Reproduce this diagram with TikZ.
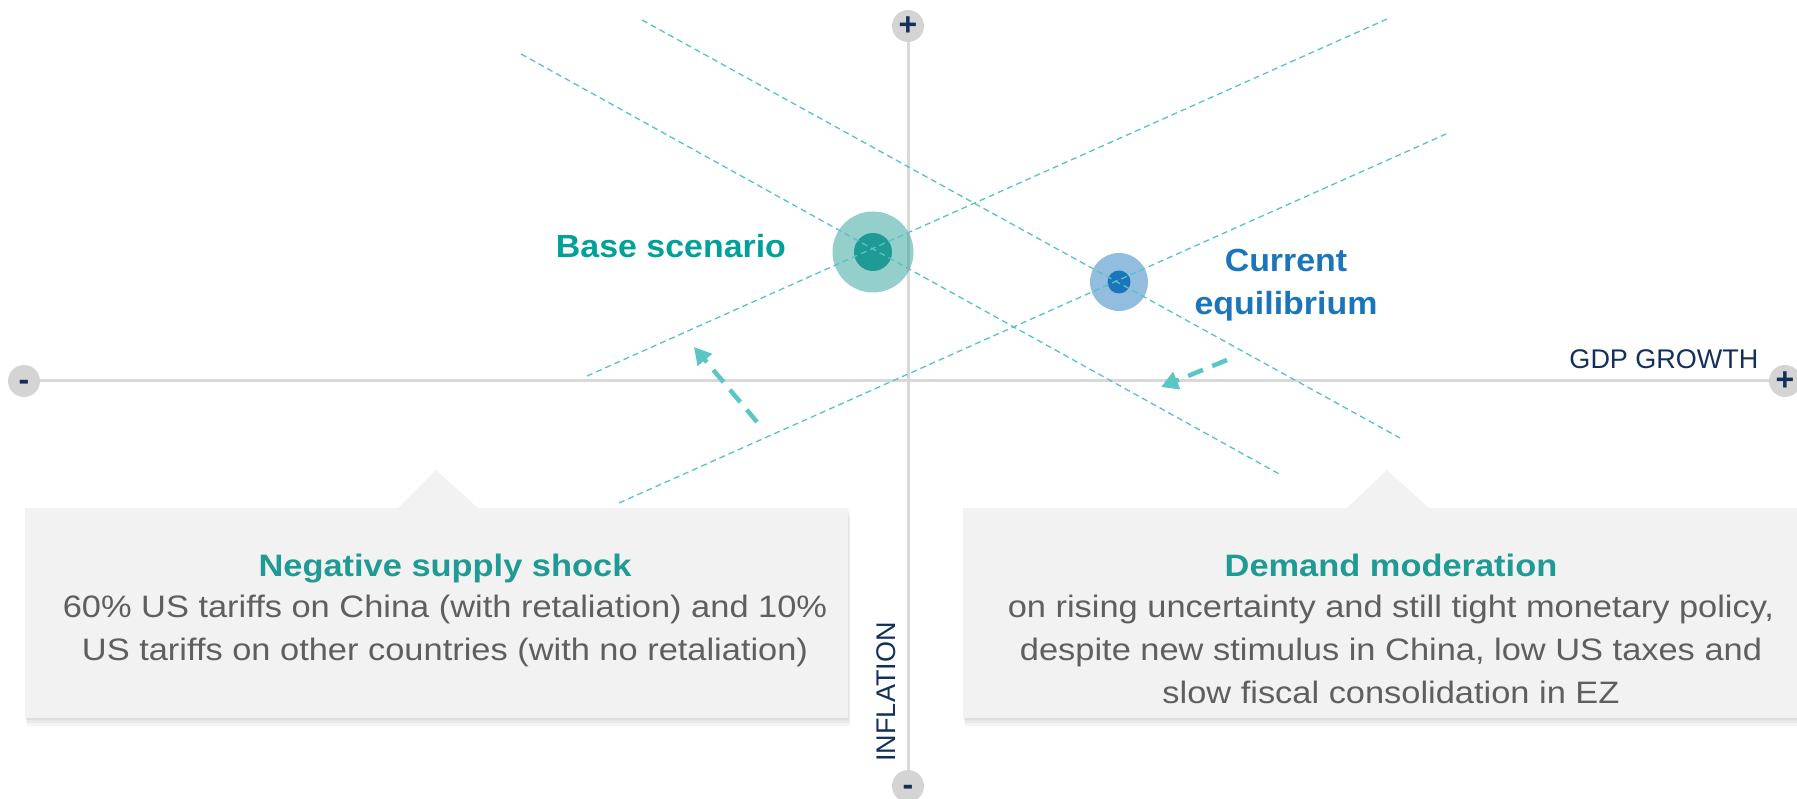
\documentclass[tikz,border=0pt]{standalone}
\usepackage{fontspec}
\setmainfont{Liberation Sans}
\newfontfamily\widefont[FakeStretch=1.11]{Liberation Sans}
\newfontfamily\labfont[FakeStretch=1.06]{Liberation Sans}
\usetikzlibrary{arrows.meta}
\definecolor{axisgray}{HTML}{D9D9D9}
\definecolor{endgray}{HTML}{D4D4D4}
\definecolor{navy}{HTML}{14305A}
\definecolor{dashteal}{HTML}{55C4C4}
\definecolor{arrteal}{HTML}{5CC6C6}
\definecolor{baseteal}{HTML}{1F9A94}
\definecolor{labteal}{HTML}{00A19A}
\definecolor{curblue}{HTML}{1B75BB}
\definecolor{boxfill}{HTML}{F2F2F2}
\definecolor{bodygray}{HTML}{5F5F5F}
\newcommand\myfs[2]{\fontsize{#1}{#2}\selectfont}
\begin{document}
\begin{tikzpicture}[x=1pt,y=-1pt,
  axisline/.style={draw=axisgray,line width=3pt},
  endcap/.style={circle,fill=endgray,minimum size=32pt,inner sep=0pt,text=navy,font=\bfseries\myfs{32}{32}},
  minuslab/.style={label={[text=navy,font=\bfseries\myfs{32}{32},yshift=-4pt]center:-}},
  guide/.style={draw=dashteal,line width=1.3pt,dash pattern=on 6pt off 4pt},
  shiftarrow/.style={draw=arrteal,line width=4.5pt,dash pattern=on 16pt off 10pt,-{Triangle[length=17pt,width=18pt]}},
  callout/.style={fill=boxfill,
    preaction={fill=black,opacity=0.05,transform canvas={xshift=0.5pt,yshift=-2pt}},
    preaction={fill=black,opacity=0.05,transform canvas={xshift=1.5pt,yshift=-5pt}},
    preaction={fill=black,opacity=0.04,transform canvas={xshift=2pt,yshift=-8pt}}},
  boxtitle/.style={anchor=base,text=baseteal,font=\widefont\bfseries\myfs{31}{43}},
  boxbody/.style={anchor=base,text=bodygray,align=center,font=\widefont\myfs{31}{43}},
]
\useasboundingbox (0,0) rectangle (1797,799);

% callout boxes
\path[callout] (25,508) -- (398,508) -- (436,470) -- (478,508) -- (848,508) -- (848,718) -- (25,718) -- cycle;
\path[callout] (963,508) -- (1347,508) -- (1387,470) -- (1429,508) -- (1830,508) -- (1830,718) -- (963,718) -- cycle;

% axes
\coordinate (xlc) at (24,381);
\coordinate (xrc) at (1785,381);
\coordinate (ytc) at (908,26);
\coordinate (ybc) at (908,786);
\draw[axisline] (xlc) -- (xrc);
\draw[axisline] (ytc) -- (ybc);
\node[endcap,minuslab] (xl) at (xlc) {};
\node[endcap] (xr) at (xrc) {+};
\node[endcap] (yt) at (ytc) {+};
\node[endcap,minuslab] (yb) at (ybc) {};

\node[anchor=base east,text=navy,font=\myfs{27}{27}] (gdp) at (1762,369) {GDP GROWTH};
\node[anchor=base,rotate=90,text=navy,font=\myfs{27}{27}] (infl) at (895,692) {INFLATION};

% scenario points
\fill[baseteal,opacity=0.48] (873,252) circle[radius=40.5];
\fill[baseteal] (873,252) circle[radius=19];
\fill[curblue,opacity=0.48] (1119,282) circle[radius=29];
\fill[curblue] (1119,282) circle[radius=11.5];

% guide lines
\coordinate (a1) at (521,54);   \coordinate (a2) at (1281,475);
\coordinate (b1) at (642,20);   \coordinate (b2) at (1400,438);
\coordinate (c1) at (587,376);  \coordinate (c2) at (1387,19);
\coordinate (d1) at (619,503);  \coordinate (d2) at (1446,134);
\draw[guide] (a1) -- (a2);
\draw[guide] (b1) -- (b2);
\draw[guide] (c1) -- (c2);
\draw[guide] (d1) -- (d2);

% shift arrows
\coordinate (s1) at (757,422); \coordinate (s2) at (694,347);
\coordinate (t1) at (1227,360); \coordinate (t2) at (1161,387);
\draw[shiftarrow] (s1) -- (s2);
\draw[shiftarrow] (t1) -- (t2);

% labels
\node[anchor=base,text=labteal,font=\labfont\bfseries\myfs{32}{43}] (baselab) at (671,258) {Base scenario};
\node[anchor=base,text=curblue,align=center,font=\labfont\bfseries\myfs{32}{43}] (curlab) at (1286,315) {Current\\equilibrium};

% box texts
\node[boxtitle] (nt) at (445,576) {Negative supply shock};
\node[boxbody] (nb) at (445,660) {60\% US tariffs on China (with retaliation) and 10\%\\US tariffs on other countries (with no retaliation)};
\node[boxtitle] (dt) at (1391,576) {Demand moderation};
\node[boxbody] (db) at (1391,703) {on rising uncertainty and still tight monetary policy,\\despite new stimulus in China, low US taxes and\\slow fiscal consolidation in EZ};
\end{tikzpicture}
\end{document}
